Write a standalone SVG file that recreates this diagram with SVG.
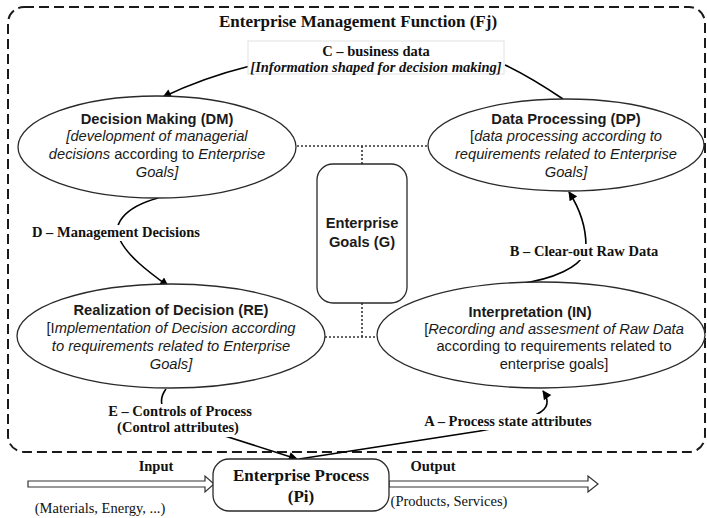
<svg xmlns="http://www.w3.org/2000/svg" width="707" height="518" viewBox="0 0 707 518">
  <defs>
    <marker id="arrow" viewBox="0 0 10 10" refX="9" refY="5" markerWidth="11" markerHeight="9" markerUnits="userSpaceOnUse" orient="auto">
      <path d="M0,0 L10,5 L0,10 Z" fill="#000"/>
    </marker>
    <style>
      .frame { fill: none; stroke: #1a1a1a; stroke-width: 2; stroke-dasharray: 10 5; }
      .ell { fill: #fff; stroke: #2a2a2a; stroke-width: 1.3; }
      .box { fill: #fff; stroke: #2a2a2a; stroke-width: 1.3; }
      .dot { fill: none; stroke: #333; stroke-width: 1.6; stroke-dasharray: 2 2; }
      .conn { fill: none; stroke: #000; stroke-width: 1.6; }
      .flow { fill: #fff; stroke: #333; stroke-width: 1.2; }
      .bg { fill: #fff; stroke: none; }
      .sans { font-family: "Liberation Sans", Arial, sans-serif; font-size: 14.7px; fill: #1a1a1a; text-anchor: middle; }
      .serif { font-family: "Liberation Serif", "Times New Roman", serif; font-size: 14.5px; fill: #111; text-anchor: middle; }
      .b { font-weight: bold; }
      .i { font-style: italic; }
      .n { font-style: normal; }
    </style>
  </defs>

  <!-- management function boundary -->
  <rect class="frame" x="8" y="7" width="697" height="445" rx="16"/>
  <text class="serif b" x="358" y="27" style="font-size:17px">Enterprise Management Function (Fj)</text>

  <!-- dotted links to the goals box -->
  <g id="goal-links">
    <path class="dot" d="M297,146 H428 M362,146 V164 M362,303 V337 M325,337 H377"/>
  </g>

  <!-- connectors -->
  <g id="connectors">
    <path class="conn" d="M250,66 C218,74 190,84 163,97" marker-end="url(#arrow)"/>
    <path class="conn" d="M563,99 C545,87 528,76 505,65"/>
    <path class="conn" d="M158,198 C122,208 112,226 120,240 C128,256 146,270 168,286" marker-end="url(#arrow)"/>
    <path class="conn" d="M518,284 C548,280 586,268 586,246 C586,226 578,206 569,192" marker-end="url(#arrow)"/>
    <path class="conn" d="M166,389 Q160,397 162,405 L200,428 L297,459" marker-end="url(#arrow)"/>
    <path class="conn" d="M299,459 L480,431 C505,427 522,420 532,416 C545,412 552,404 543,391" marker-end="url(#arrow)"/>
  </g>

  <!-- C: business data -->
  <g id="label-c">
    <rect x="248" y="41" width="256" height="33" fill="#fff" stroke="#e2e2e2" stroke-width="1"/>
    <text class="serif b" x="376" y="56">C – business data</text>
    <text class="serif b i" x="376" y="72">[Information shaped for decision making]</text>
  </g>

  <!-- Decision Making -->
  <g id="node-dm">
    <ellipse class="ell" cx="157" cy="147" rx="139" ry="51"/>
    <text class="sans b" x="157" y="124">Decision Making  (DM)</text>
    <text class="sans i" x="157" y="141">[development of managerial</text>
    <text class="sans" x="157" y="159"><tspan class="i">decisions</tspan> according to <tspan class="i">Enterprise</tspan></text>
    <text class="sans i" x="157" y="177">Goals]</text>
  </g>

  <!-- Data Processing -->
  <g id="node-dp">
    <ellipse class="ell" cx="566" cy="145" rx="138" ry="46"/>
    <text class="sans b" x="566" y="124">Data Processing (DP)</text>
    <text class="sans" x="566" y="141">[<tspan class="i">data processing according to</tspan></text>
    <text class="sans i" x="566" y="159">requirements related to Enterprise</text>
    <text class="sans i" x="566" y="177">Goals]</text>
  </g>

  <!-- Enterprise Goals -->
  <g id="node-goals">
    <rect class="box" x="317" y="164" width="90" height="139" rx="16"/>
    <text class="sans b" x="362" y="228">Enterprise</text>
    <text class="sans b" x="362" y="247">Goals (G)</text>
  </g>

  <!-- Realization of Decision -->
  <g id="node-re">
    <ellipse class="ell" cx="171" cy="336" rx="154" ry="52"/>
    <text class="sans b" x="171" y="315">Realization of Decision (RE)</text>
    <text class="sans" x="171" y="333">[I<tspan class="i">mplementation of Decision according</tspan></text>
    <text class="sans i" x="171" y="351">to requirements related to Enterprise</text>
    <text class="sans i" x="171" y="369">Goals]</text>
  </g>

  <!-- Interpretation -->
  <g id="node-in">
    <ellipse class="ell" cx="541" cy="335" rx="164" ry="53"/>
    <text class="sans b" x="530" y="317">Interpretation (IN)</text>
    <text class="sans" x="554" y="334">[<tspan class="i">Recording and assesment of Raw Data</tspan></text>
    <text class="sans" x="554" y="351">according to requirements related to</text>
    <text class="sans" x="554" y="369">enterprise goals]</text>
  </g>

  <!-- connector labels -->
  <g id="label-d">
    <rect class="bg" x="29" y="225" width="174" height="16"/>
    <text class="serif b" x="116" y="237">D – Management Decisions</text>
  </g>
  <g id="label-b">
    <rect class="bg" x="506" y="244" width="157" height="16"/>
    <text class="serif b" x="584" y="256">B – Clear-out Raw Data</text>
  </g>
  <g id="label-e">
    <rect class="bg" x="104" y="404" width="152" height="33"/>
    <text class="serif b" x="180" y="416">E – Controls of Process</text>
    <text class="serif b" x="178" y="432">(Control attributes)</text>
  </g>
  <g id="label-a">
    <rect class="bg" x="418" y="414" width="182" height="16"/>
    <text class="serif b" x="508" y="426">A – Process state attributes</text>
  </g>

  <!-- Enterprise Process with input / output flows -->
  <g id="flow-input">
    <polygon class="flow" points="28,481 205,481 205,476 214,484 205,492 205,487 28,487"/>
    <text class="serif b" x="156" y="471">Input</text>
    <text class="serif" x="100" y="513">(Materials, Energy, ...)</text>
  </g>
  <g id="flow-output">
    <polygon class="flow" points="389,481 588,481 588,476 598,484 588,492 588,487 389,487"/>
    <text class="serif b" x="433" y="471">Output</text>
    <text class="serif" x="449" y="506">(Products, Services)</text>
  </g>
  <g id="node-pi">
    <rect class="box" x="213" y="459" width="176" height="52" rx="16"/>
    <text class="serif b" x="301" y="481" style="font-size:17px">Enterprise Process</text>
    <text class="serif b" x="301" y="502" style="font-size:17px">(Pi)</text>
  </g>
</svg>
